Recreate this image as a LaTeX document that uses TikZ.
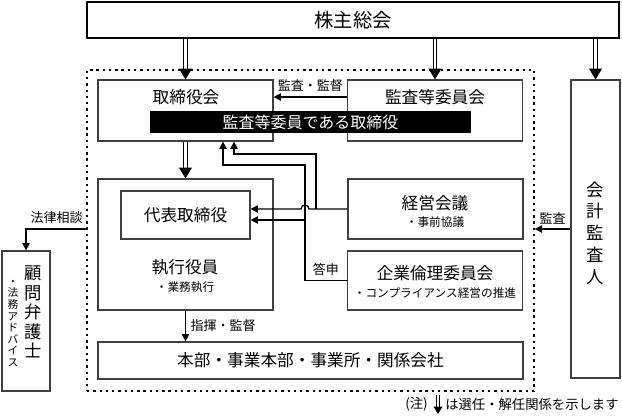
\documentclass[tikz,border=0pt]{standalone}
\usepackage{fontspec}
\setmainfont{Noto Sans CJK JP}
\usetikzlibrary{arrows.meta}
\tikzstyle{box} = [rectangle, draw=black!75, line width=0.9pt, fill=white, inner sep=0pt]
\tikzstyle{title} = [font=\fontsize{12.5}{15}\selectfont]
\tikzstyle{sub} = [font=\fontsize{8.75}{10}\selectfont]
\tikzstyle{small} = [font=\fontsize{9.75}{11}\selectfont]
\tikzstyle{arrow} = [line width=1pt, -{Triangle[length=5.5pt, width=5.5pt]}]
\tikzstyle{sel} = [double, double distance=2pt, line width=0.75pt, -{Triangle[length=8pt, width=9.5pt]}]
\tikzstyle{dotframe} = [rectangle, draw, line width=1pt, dash pattern=on 1.8pt off 2.9pt]

\begin{document}
\begin{tikzpicture}[x=0.75pt, y=-0.75pt]
		\useasboundingbox (0,0) rectangle (622,417);
		\node (company) [dotframe, minimum width=335.25pt, minimum height=240.75pt] at (310.5,230.5) {};
		\node (agm) [box, draw=black, line width=1.8pt, minimum width=399pt, minimum height=27pt, font=\fontsize{14.5}{17}\selectfont] at (353,20) {株主総会};
		\node (board) [box, minimum width=131.25pt, minimum height=45.75pt] at (185.5,110.5) {};
		\node (boardlbl) [title] at (186,97) {取締役会};
		\node (audcom) [box, minimum width=131.25pt, minimum height=45.75pt] at (435,110.5) {};
		\node (audcomlbl) [title] at (435,97) {監査等委員会};
		\node (bar) [rectangle, fill=black, text=white, minimum width=240.75pt, minimum height=16.5pt, inner sep=0pt, font=\fontsize{12}{14}\selectfont] at (310.5,122) {監査等委員である取締役};
		\node (exec) [box, minimum width=131.25pt, minimum height=98.25pt] at (185.5,244.5) {};
		\node (rep) [box, title, minimum width=96.75pt, minimum height=36pt] at (185.5,215) {代表取締役};
		\node (execlbl) [title] at (185,267) {執行役員};
		\node (execsub) [sub] at (185,287) {・業務執行};
		\node (mgmt) [box, minimum width=131.25pt, minimum height=45pt] at (435.5,209) {};
		\node (mgmtlbl) [title] at (435,203) {経営会議};
		\node (mgmtsub) [sub] at (435,222) {・事前協議};
		\node (ethics) [box, minimum width=131.25pt, minimum height=44.25pt] at (435,280.5) {};
		\node (ethicslbl) [title] at (435,273) {企業倫理委員会};
		\node (ethicssub) [sub] at (435,293) {・コンプライアンス経営の推進};
		\node (hq) [box, title, minimum width=318.75pt, minimum height=27.75pt] at (310.5,360.5) {本部・事業本部・事業所・関係会社};
		\node (auditor) [box, minimum width=36.75pt, minimum height=223.5pt] at (595.5,229) {};
		\node (auditorlbl) [align=center, font=\fontsize{13}{16.3}\selectfont] at (595.5,233) {会\\計\\監\\査\\人};
		\node (lawyer) [box, minimum width=36pt, minimum height=105pt] at (26,321) {};
		\node (lawyerlbl) [align=center, font=\fontsize{13}{14.6}\selectfont] at (33,312) {顧\\問\\弁\\護\\士};
		\node (lawyersub) [align=center, font=\fontsize{8}{8.7}\selectfont] at (13,323.5) {・\\法\\務\\ア\\ド\\バ\\イ\\ス};
		\node (notehead) [small, font=\fontsize{10}{12}\selectfont, anchor=east, inner sep=0pt] at (428,404) {(注)};
		\node (notetext) [small, font=\fontsize{10}{12}\selectfont, anchor=west, inner sep=0pt] at (445,404) {は選任・解任関係を示します};
		\coordinate (bend1) at (234,154);
		\coordinate (bend2) at (223,165);
		\coordinate (tap) at (316,209);
		\coordinate (jct) at (305,220);
		\coordinate (lawlink) at (87,229);
		\coordinate (legtop) at (438,395);
		\coordinate (legbot) at (438,414);
		\draw [sel] (agm.south -| board.north) -- (board.north);
		\draw [sel] (agm.south -| audcom.north) -- (audcom.north);
		\draw [sel] (agm.south -| auditor.north) -- (auditor.north);
		\draw [sel] (board.south) -- (exec.north);
		\draw [arrow] (audcom.west |- boardlbl) -- node[small, above] {監査・監督} (board.east |- boardlbl);
		\draw [arrow] (exec.south) -- node[small, right] {指揮・監督} (exec.south |- hq.north);
		\draw [arrow] (mgmt.west) -- (309,209) arc[start angle=0, end angle=180, radius=3pt] -- (rep.east |- mgmt.west);
		\draw [arrow] (tap) -- (tap |- bend1) -- (bend1) -- (bend1 |- board.south);
		\draw [arrow] (ethics.west) -- node[small, above] {答申} (ethics.west -| jct) -- (jct |- bend2) -- (bend2) -- (bend2 |- board.south);
		\draw [arrow] (jct) -- (jct -| rep.east);
		\draw [arrow] (auditor.west) -- node[small, above] {監査} (auditor.west -| company.east);
		\draw [arrow] (lawlink) -| node[small, above, pos=0.25] {法律相談} (lawyer.north);
		\draw [sel, -{Triangle[length=5.5pt, width=6.5pt]}] (legtop) -- (legbot);
	\end{tikzpicture}
\end{document}
